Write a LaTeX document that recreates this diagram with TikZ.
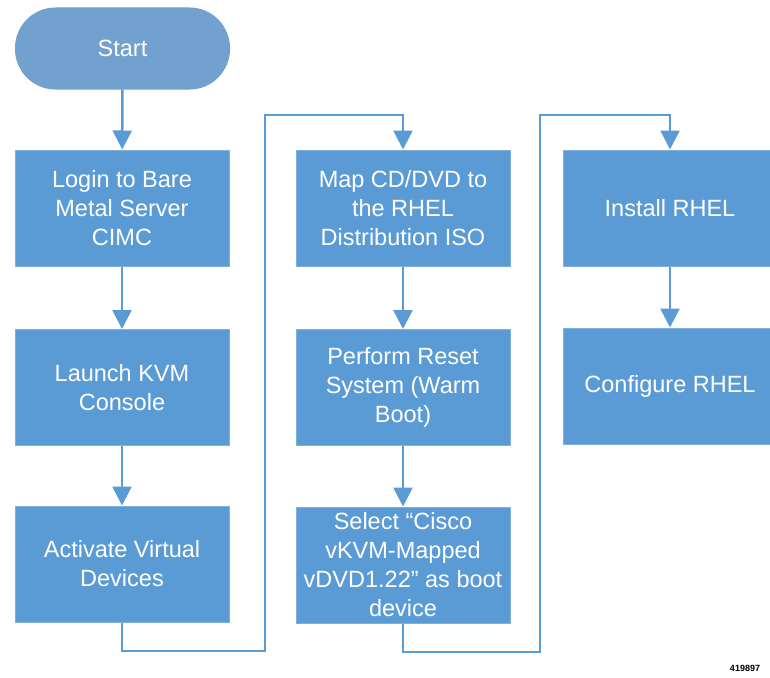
\documentclass[tikz,border=0pt]{standalone}
\usepackage{fontspec}
\setmainfont{Liberation Sans}
\usetikzlibrary{arrows.meta}

\definecolor{stepblue}{HTML}{5B9BD5}
\definecolor{startblue}{HTML}{72A0CF}
\definecolor{edgeblue}{HTML}{7FB1DE}

\tikzset{
  stepbox/.style={rectangle, fill=stepblue, draw=edgeblue, line width=1pt,
    minimum width=214pt, minimum height=116pt, text=white, align=center,
    font=\fontsize{23.5}{29}\selectfont},
  startbox/.style={stepbox, fill=startblue, draw=startblue,
    minimum height=81pt, rounded corners=40pt},
  flow/.style={draw=stepblue, line width=2.5pt,
    -{Triangle[width=19pt,length=19pt]}}
}

\begin{document}
\begin{tikzpicture}[x=1pt,y=1pt]
  \useasboundingbox (0,0) rectangle (770,-677);
  \begin{scope}
  \clip (0,0) rectangle (770,-677);
  \node [startbox] (start) at (122.5,-48.5) {Start};
  \node [stepbox] (login) at (122,-208) {Login to Bare\\Metal Server\\CIMC};
  \node [stepbox] (kvm) at (122,-387.5) {Launch KVM\\Console};
  \node [stepbox] (activate) at (122,-564) {Activate Virtual\\Devices};
  \node [stepbox] (map) at (403,-208) {Map CD/DVD to\\the RHEL\\Distribution ISO};
  \node [stepbox] (reset) at (403,-387.5) {Perform Reset\\System (Warm\\Boot)};
  \node [stepbox] (select) at (403,-565) {Select “Cisco\\vKVM-Mapped\\vDVD1.22” as boot\\device};
  \node [stepbox] (install) at (670,-208) {Install RHEL};
  \node [stepbox] (configure) at (670,-386) {Configure RHEL};
  \end{scope}

  % turn points between columns
  \coordinate (low1) at (265,-651);
  \coordinate (high1) at (265,-115);
  \coordinate (low2) at (540,-652);
  \coordinate (high2) at (540,-115);

  \draw [flow] (start) -- (login);
  \draw [flow] (login) -- (kvm);
  \draw [flow] (kvm) -- (activate);
  \draw [flow] (activate.south) |- (low1) -- (high1) -| (map.north);
  \draw [flow] (map) -- (reset);
  \draw [flow] (reset) -- (select);
  \draw [flow] (select.south) |- (low2) -- (high2) -| (install.north);
  \draw [flow] (install) -- (configure);

  \node [font=\fontsize{9}{10}\selectfont\bfseries] (fignum) at (745,-668) {419897};
\end{tikzpicture}
\end{document}
